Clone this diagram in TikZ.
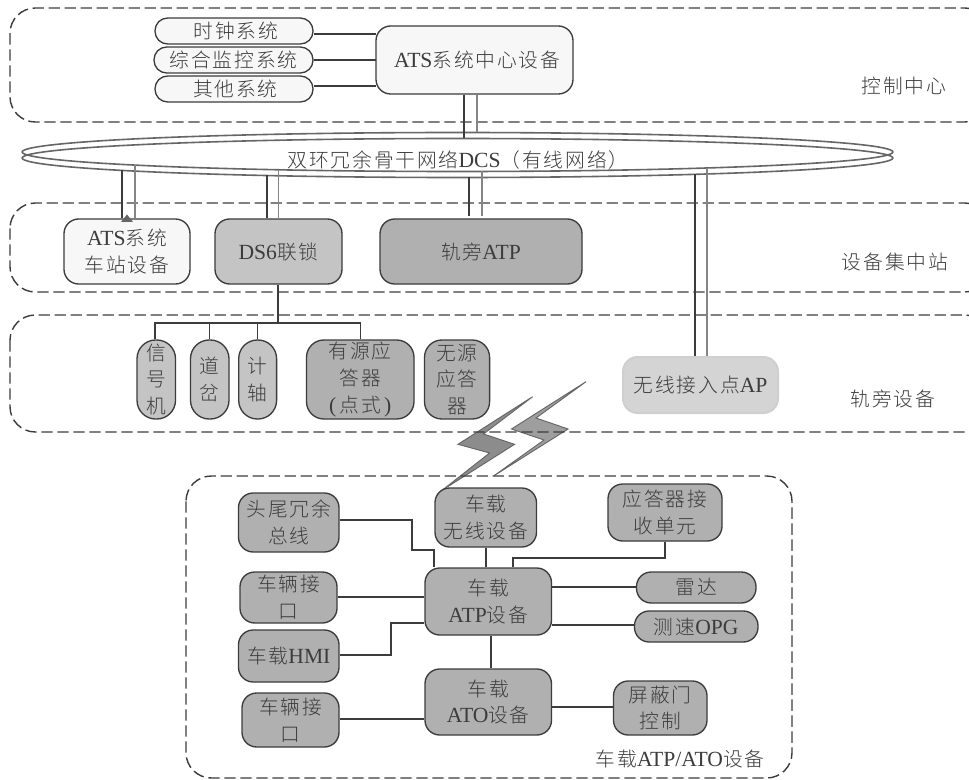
\documentclass[tikz,border=0pt]{standalone}
\usepackage{fontspec}
\setmainfont{Liberation Serif}
\newfontfamily\cjkf[LetterSpace=9.5]{Noto Sans CJK SC Light}
\usetikzlibrary{shapes.geometric}
\newcommand{\C}[1]{{\fontsize{14.8}{20}\selectfont\cjkf #1}}
\definecolor{ink}{HTML}{3C3C3C}
\definecolor{soft}{HTML}{858585}
\tikzset{
  every node/.style={text=ink,font=\fontsize{16.2}{20}\selectfont},
  bbox/.style={draw=ink,line width=1pt,inner sep=0pt,align=center},
  wl/.style={fill=white!97!black},
  l1/.style={fill=black!23},
  l2/.style={fill=black!31},
  conn/.style={draw=ink,line width=0.95pt},
  connl/.style={draw=soft,line width=0.85pt},
  zone/.style={draw=ink,line width=1.05pt,dash pattern=on 8.5pt off 3.5pt,rounded corners=19pt},
  ringl/.style={ellipse,draw=black!60,line width=1.2pt,inner sep=0pt,minimum width=653pt,minimum height=29.25pt},
  bolt/.style={draw=black!60,line width=0.7pt,line join=miter},
  lbl/.style={inner sep=0pt}
}
% name, x1, y1, x2, y2, radius(pt), style, text
\newcommand{\bx}[8]{\node[bbox,#7,rounded corners=#6pt,minimum width={(#4-#2)*0.75pt},minimum height={(#5-#3)*0.75pt}] (#1) at ({(#2+#4)/2},{(#3+#5)/2}) {#8};}
\begin{document}
\begin{tikzpicture}[x=0.75pt,y=-0.75pt]
\clip (0,0) rectangle (969,780);
\fill[white] (0,0) rectangle (969,780);
% lightning
\filldraw[bolt,fill=black!45] (532.6,396.7) -- (458,444.3) -- (489.6,453) -- (442.5,490) -- (514.6,444.3) -- (483.5,434) -- cycle;
\filldraw[bolt,fill=black!38] (586,381.7) -- (511.5,429) -- (544,440) -- (494,475.7) -- (568,429) -- (536,418) -- cycle;
% zones
\draw[zone] (10,8) rectangle (990,122);
\draw[zone] (10,203) rectangle (990,292);
\draw[zone] (10,315) rectangle (990,432);
\draw[zone] (186,476) rectangle (792,778);
\node[lbl] (zc) at (904,86) {\C{控制中心}};
\node[lbl] (zs) at (895,262) {\C{设备集中站}};
\node[lbl] (zt) at (893,399) {\C{轨旁设备}};
\node[lbl] (zv) at (680,759) {\C{车载}ATP/ATO\C{设备}};
% ring
\node[ringl] (ringa) at (457.5,152) {};
\node[ringl] (ringb) at (457.5,158) {};
\node[lbl] (ringt) at (458,160) {\C{双环冗余骨干网络}DCS\C{（有线网络）}};
% control centre
\bx{clk}{155}{18}{313}{44}{9.5}{wl}{\hspace{3pt}\C{时钟系统}}
\bx{mon}{154}{47}{313}{73}{9.5}{wl}{\C{综合监控系统}}
\bx{oth}{155}{76}{313}{102}{9.5}{wl}{\hspace{2pt}\C{其他系统}}
\bx{atsc}{376}{26}{573}{94}{11}{wl}{\hspace{4pt}ATS\C{系统中心设备}}
% station
\bx{atss}{64}{219}{190}{284}{11}{wl}{ATS\C{系统}\\\C{车站设备}}
\bx{ds}{215}{219}{342}{284}{11}{l1}{DS6\C{联锁}}
\bx{atp}{380}{219}{582}{284}{11}{l2}{\C{轨旁}ATP}
% trackside
\bx{sig}{137}{340}{175.5}{419}{14}{l1}{\C{信}\\[-0.3pt]\C{号}\\[-0.3pt]\C{机}}
\bx{swi}{190.5}{340}{229}{419}{14}{l1}{\C{道}\\\C{岔}}
\bx{axl}{238.7}{340}{276.6}{419}{14}{l1}{\C{计}\\\C{轴}}
\bx{act}{306.5}{340}{414}{419}{13}{l2}{\C{有源应}\\\C{答器}\\(\C{\,点式\,})}
\bx{pas}{424.5}{340}{489.6}{419}{13}{l2}{\C{无源}\\\C{应答}\\\C{器}}
\node[inner sep=0pt,rounded corners=11pt,draw=black!19,line width=1.5pt,fill=black!17,minimum width={155*0.75pt},minimum height={56*0.75pt}] (ap) at (700.5,385) {\C{无线接入点}AP};
% vehicle
\bx{ht}{238.5}{493}{339}{552}{11}{l2}{\C{头尾冗余}\\\C{总线}}
\bx{wd}{435}{488}{536.5}{547}{11}{l2}{\C{车载}\\\C{无线设备}}
\bx{bal}{608}{484}{722}{541}{11}{l2}{\C{应答器接}\\\C{收单元}}
\bx{vi}{240}{572}{337}{623}{11}{l2}{\C{车辆接}\\\C{口}}
\bx{hmi}{238.5}{630}{339}{682}{11}{l2}{\C{车载}HMI}
\bx{vib}{242}{693}{339}{747}{11}{l2}{\C{车辆接}\\\C{口}}
\bx{vatp}{425}{568}{551.5}{635}{11}{l2}{\C{车载}\\ATP\C{设备}}
\bx{vato}{425}{669}{551.5}{735}{11}{l2}{\C{车载}\\ATO\C{设备}}
\bx{rad}{636.5}{572}{756}{603}{11}{l2}{\C{雷达}}
\bx{opg}{634.5}{611}{758}{642}{11}{l2}{\C{测速}OPG}
\bx{psd}{613.5}{681}{707}{735}{11}{l2}{\C{屏蔽门}\\\C{控制}}
% ring tap points
\coordinate (r1) at (464,138.5);
\coordinate (r2) at (477,132.5);
\coordinate (r3) at (122,170.4);
\coordinate (r4) at (135,165);
\coordinate (r5) at (267,175.5);
\coordinate (r6) at (278.5,169.8);
\coordinate (r7) at (469,177.5);
\coordinate (r8) at (482,171.5);
\coordinate (r9) at (695,174.3);
\coordinate (r10) at (707,168);
% control connectors
\coordinate (c1) at (376,34);
\coordinate (c2) at (376,60);
\coordinate (c3) at (376,86);
\draw[conn] (c1 -| clk.east) -- (c1);
\draw[conn] (c2 -| mon.east) -- (c2);
\draw[conn] (c3 -| oth.east) -- (c3);
\draw[conn] (r1 |- atsc.south) -- (r1);
\draw[connl] (r2 |- atsc.south) -- (r2);
\draw[conn] (r3) -- (r3 |- atss.north);
\draw[connl] (r4) -- (r4 |- atss.north);
\draw[conn] (r5) -- (r5 |- ds.north);
\draw[connl] (r6) -- (r6 |- ds.north);
\draw[conn] (r7) -- ([yshift=1.5pt]r7 |- atp.north);
\draw[connl] (r8) -- ([yshift=1.5pt]r8 |- atp.north);
\draw[conn] (r9) -- (r9 |- ap.north);
\draw[connl] (r10) -- (r10 |- ap.north);
\fill[black!60] (121,222) -- (133,222) -- (127,214.5) -- cycle;
% trackside bus
\coordinate (bus) at (278,323);
\draw[conn] (ds.south -| bus) -- (bus);
\draw[conn] (sig.north -| 155,0) |- (act.north |- bus) -- (act.north);
\draw[conn] (swi.north) -- (swi.north |- bus);
\draw[conn] (axl.north) -- (axl.north |- bus);
% vehicle connectors
\draw[conn] (ht.east |- 0,520) -| (412,550) -| (434,0 |- vatp.north);
\draw[conn] (wd.south -| 486,0) -- (vatp.north -| 486,0);
\draw[conn] (bal.south -| 665,0) |- (513,558) -- (vatp.north -| 513,0);
\draw[conn] (vi.east |- 0,597) -- (vatp.west |- 0,597);
\draw[conn] (hmi.east |- 0,655) -| (391,623) -- (vatp.west |- 0,623);
\draw[conn] (vatp.east |- 0,587) -- (rad.west |- 0,587);
\draw[conn] (vatp.east |- 0,625) -- (opg.west |- 0,625);
\draw[conn] (vatp.south -| 491,0) -- (vato.north -| 491,0);
\draw[conn] (vib.east |- 0,719) -- (vato.west |- 0,719);
\draw[conn] (vato.east |- 0,707) -- (psd.west |- 0,707);
\end{tikzpicture}
\end{document}
